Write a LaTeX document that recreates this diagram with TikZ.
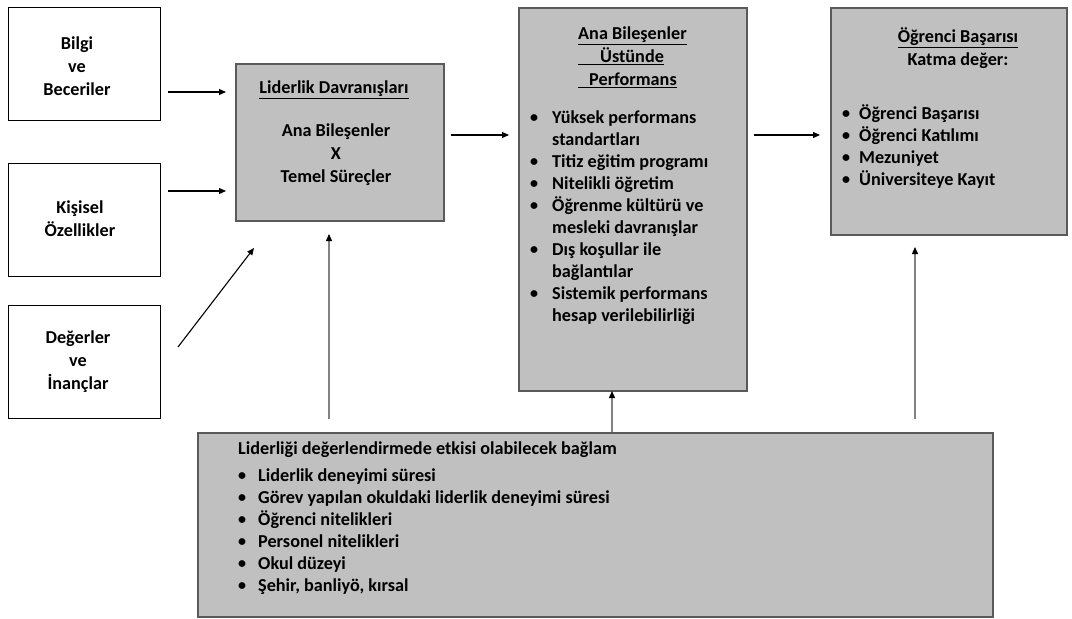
\documentclass[tikz,border=0pt]{standalone}
\usepackage{fontspec}
\setmainfont{Carlito}
\usetikzlibrary{arrows.meta}
\definecolor{boxgray}{RGB}{192,192,192}
\definecolor{edgegray}{RGB}{90,90,90}
\definecolor{linegray}{RGB}{130,130,130}
\newcommand\bul{\raisebox{0.3pt}{\fontsize{16}{16}\selectfont\textbullet}}
\begin{document}
\begin{tikzpicture}[x=1pt,y=-1pt,
  wbox/.style={draw=black, line width=1.3pt, fill=white, anchor=north west, inner sep=0pt},
  gbox/.style={draw=edgegray, line width=1.6pt, fill=boxgray, anchor=north west, inner sep=0pt},
  txt/.style={font=\fontsize{18.2}{23}\selectfont\bfseries, align=center, inner sep=0pt},
  lst/.style={font=\fontsize{18.2}{22}\selectfont\bfseries, inner sep=0pt, anchor=base west},
  arr/.style={line width=1.1pt, -{Triangle[length=7pt,width=6pt]}},
  varr/.style={draw=linegray, line width=1.3pt, -{Triangle[length=7pt,width=6pt,color=black]}}]
\useasboundingbox (0,0) rectangle (1072,619);
% left boxes
\node[wbox, minimum width=152pt, minimum height=113pt] (bilgi) at (8,7) {};
\node[wbox, minimum width=152pt, minimum height=113pt] (kisisel) at (8,163) {};
\node[wbox, minimum width=152pt, minimum height=113pt] (deger) at (8,305) {};
\node[txt] (bilgiT) at (77,66) {Bilgi\\ve\\Beceriler};
\node[txt] (kisiselT) at (80,219) {Kişisel\\Özellikler};
\node[txt] (degerT) at (78,362) {Değerler\\ve\\İnançlar};
% leadership box
\node[gbox, minimum width=208pt, minimum height=157pt] (lider) at (235,63) {};
\node[txt] (liderH) at (334,90) {\underline{Liderlik Davranışları}};
\node[txt] (liderT) at (336,155) {Ana Bileşenler\\X\\Temel Süreçler};
% performance box
\node[gbox, minimum width=228pt, minimum height=383pt] (ana) at (518,7) {};
\node[txt, align=left, anchor=west] (anaH) at (578,57) {\underline{Ana Bileşenler}\\\underline{\hspace*{22pt}Üstünde}\\\underline{\hspace*{11pt}Performans}};
\node[lst] (anaL) at (530,123) {\begin{tabular}[t]{@{}p{22pt}@{}l@{}}
\bul & Yüksek performans\\
 & standartları\\
\bul & Titiz eğitim programı\\
\bul & Nitelikli öğretim\\
\bul & Öğrenme kültürü ve\\
 & mesleki davranışlar\\
\bul & Dış koşullar ile\\
 & bağlantılar\\
\bul & Sistemik performans\\
 & hesap verilebilirliği
\end{tabular}};
% student achievement box
\node[gbox, minimum width=236pt, minimum height=227pt] (ogr) at (830,7) {};
\node[txt] (ogrH) at (958,48.5) {\underline{Öğrenci Başarısı}\\Katma değer:};
\node[lst] (ogrL) at (842,119) {\begin{tabular}[t]{@{}p{17pt}@{}l@{}}
\bul & Öğrenci Başarısı\\
\bul & Öğrenci Katılımı\\
\bul & Mezuniyet\\
\bul & Üniversiteye Kayıt
\end{tabular}};
% context box
\node[gbox, minimum width=795pt, minimum height=184pt] (ctx) at (197,432) {};
\node[lst] (ctxL) at (238,454) {\begin{tabular}[t]{@{}p{20pt}@{}l@{}}
\multicolumn{2}{@{}l@{}}{Liderliği değerlendirmede etkisi olabilecek bağlam}\\[5pt]
\bul & Liderlik deneyimi süresi\\
\bul & Görev yapılan okuldaki liderlik deneyimi süresi\\
\bul & Öğrenci nitelikleri\\
\bul & Personel nitelikleri\\
\bul & Okul düzeyi\\
\bul & Şehir, banliyö, kırsal
\end{tabular}};
% connector ends
\coordinate (a1s) at (168,92);  \coordinate (a1e) at (226,92);
\coordinate (a2s) at (168,191); \coordinate (a2e) at (226,191);
\coordinate (a3s) at (178,347); \coordinate (a3e) at (254,248);
\coordinate (a4s) at (451,135); \coordinate (a4e) at (509,135);
\coordinate (a5s) at (754,135); \coordinate (a5e) at (820,135);
\coordinate (v1s) at (329,419); \coordinate (v1e) at (329,234);
\coordinate (v2s) at (612,432); \coordinate (v2e) at (612,391);
\coordinate (v3s) at (915,419); \coordinate (v3e) at (915,247);
\draw[arr] (a1s) -- (a1e);
\draw[arr] (a2s) -- (a2e);
\draw[arr] (a3s) -- (a3e);
\draw[arr] (a4s) -- (a4e);
\draw[arr] (a5s) -- (a5e);
\draw[varr] (v1s) -- (v1e);
\draw[varr] (v2s) -- (v2e);
\draw[varr] (v3s) -- (v3e);
\end{tikzpicture}
\end{document}
